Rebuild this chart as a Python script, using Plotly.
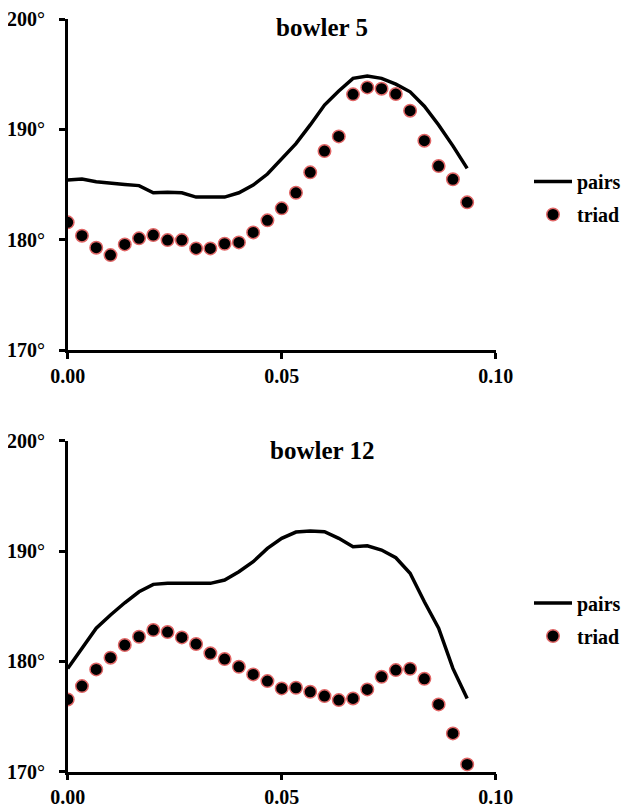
import plotly.graph_objects as go

# x positions (time), 29 samples at 1/300 spacing
x_vals = [i / 300 for i in range(29)]

b5_pairs = [185.4, 185.5, 185.25, 185.16, 185.0, 184.9, 184.25, 184.3, 184.25, 183.86,
            183.86, 183.86, 184.25, 184.95, 185.95, 187.28, 188.7, 190.4, 192.2, 193.47,
            194.62, 194.83, 194.62, 194.1, 193.4, 192.1, 190.4, 188.5, 186.46]
b5_triad = [181.57, 180.36, 179.27, 178.6, 179.57, 180.12, 180.42, 179.96, 179.96, 179.21,
            179.21, 179.63, 179.75, 180.66, 181.75, 182.84, 184.25, 186.1, 188.03, 189.36,
            193.17, 193.8, 193.68, 193.2, 191.69, 188.97, 186.67, 185.47, 183.38]

b12_pairs = [179.36, 181.18, 183.0, 184.2, 185.31, 186.31, 186.98, 187.07, 187.07, 187.07,
             187.07, 187.37, 188.12, 189.03, 190.24, 191.15, 191.72, 191.81, 191.75, 191.15,
             190.39, 190.48, 190.09, 189.39, 187.98, 185.4, 183.0, 179.36, 176.64]
b12_triad = [176.55, 177.76, 179.27, 180.33, 181.48, 182.23, 182.84, 182.66, 182.17, 181.57,
             180.73, 180.21, 179.51, 178.82, 178.21, 177.55, 177.61, 177.24, 176.85, 176.49,
             176.64, 177.46, 178.6, 179.21, 179.33, 178.42, 176.1, 173.47, 170.66]

titles = ["bowler 5", "bowler 12"]
y_ticks = [170, 180, 190, 200]
y_labels = ["170°", "180°", "190°", "200°"]
x_ticks = [0.0, 0.05, 0.10]
x_labels = ["0.00", "0.05", "0.10"]

FONT = "Liberation Serif"
OFF = 8  # page body margin
W, H = 630 - OFF, 807 - OFF

fig = go.Figure()

series = [(b5_pairs, b5_triad, "x", "y", "legend"),
          (b12_pairs, b12_triad, "x2", "y2", "legend2")]
for pairs, triad, xa, ya, lg in series:
    fig.add_trace(go.Scatter(x=x_vals, y=pairs, mode="lines", name="<b>pairs</b>",
                             line=dict(color="black", width=3.5),
                             xaxis=xa, yaxis=ya, legend=lg, legendgroup="p" + lg))
    fig.add_trace(go.Scatter(x=x_vals, y=triad, mode="markers", name="<b>triad</b>",
                             marker=dict(color="black", size=12.5,
                                         line=dict(color="#e06666", width=1.5)),
                             xaxis=xa, yaxis=ya, legend=lg, legendgroup="t" + lg))

def px_x(p):
    return (p - OFF) / W

def px_y(p):
    return (H - (p - OFF)) / H

x_dom = [px_x(67.7), px_x(495.7)]
axis_common = dict(showgrid=False, zeroline=False, showline=True, linecolor="black",
                   linewidth=2.5, ticks="outside", ticklen=6, tickwidth=2.5,
                   tickcolor="black", tickfont=dict(family=FONT, size=20, color="black"))

xaxis = dict(axis_common, domain=x_dom, range=[0, 0.1], tickvals=x_ticks,
             ticktext=["<b>" + t + "</b>" for t in x_labels], ticklabelstandoff=0)
yticktext = ["<b>" + t + "</b>" for t in y_labels]
yaxis_top = dict(axis_common, domain=[px_y(350), px_y(19)], range=[170, 200],
                 tickvals=y_ticks, ticktext=yticktext, ticklabelstandoff=10)
yaxis_bot = dict(axis_common, domain=[px_y(771.7), px_y(440.7)], range=[170, 200],
                 tickvals=y_ticks, ticktext=yticktext, ticklabelstandoff=10)

legend_common = dict(font=dict(family=FONT, size=20, color="black"),
                     bgcolor="rgba(0,0,0,0)", borderwidth=0, xanchor="left",
                     yanchor="middle", tracegroupgap=4, itemwidth=38)

fig.update_layout(
    width=W, height=H, margin=dict(l=0, r=0, t=0, b=0, autoexpand=False),
    plot_bgcolor="white", paper_bgcolor="white",
    xaxis=dict(xaxis, anchor="y"),
    yaxis=dict(yaxis_top, anchor="x"),
    xaxis2=dict(xaxis, anchor="y2"),
    yaxis2=dict(yaxis_bot, anchor="x2"),
    legend=dict(legend_common, x=px_x(529), y=px_y(198)),
    legend2=dict(legend_common, x=px_x(529), y=px_y(619.5)),
    annotations=[
        dict(text="<b>" + titles[0] + "</b>", x=px_x(321.5), y=px_y(28), xref="paper",
             yref="paper", showarrow=False, xanchor="center", yanchor="middle",
             font=dict(family=FONT, size=25, color="black")),
        dict(text="<b>" + titles[1] + "</b>", x=px_x(321.5), y=px_y(450), xref="paper",
             yref="paper", showarrow=False, xanchor="center", yanchor="middle",
             font=dict(family=FONT, size=25, color="black")),
    ],
    font=dict(family=FONT, color="black"),
)

fig.write_html("out.html")
